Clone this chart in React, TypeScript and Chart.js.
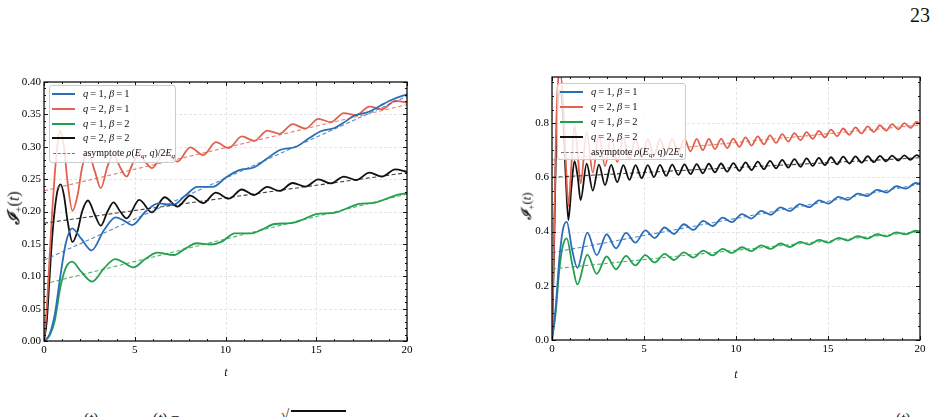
import React, { useEffect, useRef } from "react";
import { Chart, registerables } from "chart.js";

Chart.register(...registerables);

const FONT = "'Liberation Serif', 'DejaVu Serif', serif";

// ---------- tick values ----------
const X_MAJOR = [0, 5, 10, 15, 20];
const X_MINOR = [1, 2, 3, 4, 6, 7, 8, 9, 11, 12, 13, 14, 16, 17, 18, 19];
const YL_MAJOR = [0, 0.05, 0.1, 0.15, 0.2, 0.25, 0.3, 0.35, 0.4];
const YL_MINOR = [
  0.01, 0.02, 0.03, 0.04, 0.06, 0.07, 0.08, 0.09, 0.11, 0.12, 0.13, 0.14, 0.16, 0.17, 0.18, 0.19,
  0.21, 0.22, 0.23, 0.24, 0.26, 0.27, 0.28, 0.29, 0.31, 0.32, 0.33, 0.34, 0.36, 0.37, 0.38, 0.39,
];
const YR_MAJOR = [0, 0.2, 0.4, 0.6, 0.8];
const YR_MINOR = [0.05, 0.1, 0.15, 0.25, 0.3, 0.35, 0.45, 0.5, 0.55, 0.65, 0.7, 0.75, 0.85, 0.9, 0.95];

// ---------- left panel series [t, I+(t)] ----------
const L_Q1B1: [number, number][] = [
  [0, 0], [0.3, 0.01], [0.6, 0.042], [0.9, 0.1], [1.2, 0.151], [1.55, 0.174], [2.05, 0.158], [2.63, 0.14],
  [3.3, 0.171], [3.95, 0.191], [4.4, 0.186], [4.85, 0.179], [5.6, 0.2], [6.3, 0.2125], [7.1, 0.21], [7.8, 0.225],
  [8.45, 0.238], [9.3, 0.238], [10.0, 0.252], [10.75, 0.264], [11.55, 0.268], [12.3, 0.282], [13.0, 0.295],
  [13.9, 0.3], [14.6, 0.313], [15.25, 0.324], [16.0, 0.329], [16.5, 0.337], [17.1, 0.348], [17.9, 0.354],
  [18.5, 0.363], [19.2, 0.373], [20, 0.381],
];
const L_Q2B1: [number, number][] = [
  [0, 0], [0.15, 0.05], [0.3, 0.125], [0.45, 0.2], [0.6, 0.26], [0.75, 0.305], [0.9, 0.325], [1.1, 0.3],
  [1.3, 0.245], [1.57, 0.201], [1.85, 0.225], [2.1, 0.268], [2.42, 0.292], [2.8, 0.262], [3.13, 0.236],
  [3.5, 0.27], [3.83, 0.288], [4.2, 0.268], [4.55, 0.254], [4.9, 0.275], [5.25, 0.287], [5.6, 0.276],
  [5.95, 0.267], [6.65, 0.292], [7.35, 0.277], [8.06, 0.299], [8.77, 0.287], [9.47, 0.307], [10.18, 0.298],
  [10.9, 0.316], [11.58, 0.309], [12.3, 0.325], [12.98, 0.32], [13.7, 0.335], [14.4, 0.328], [15.12, 0.343],
  [15.8, 0.338], [16.52, 0.352], [17.2, 0.349], [17.93, 0.362], [18.62, 0.358], [19.35, 0.371], [20, 0.368],
];
const L_Q1B2: [number, number][] = [
  [0, 0], [0.3, 0.008], [0.6, 0.032], [0.9, 0.083], [1.2, 0.113], [1.55, 0.1225], [2.05, 0.107], [2.65, 0.0916],
  [3.3, 0.112], [3.92, 0.1266], [4.4, 0.121], [4.93, 0.1138], [5.6, 0.127], [6.25, 0.1364], [7.15, 0.1328],
  [7.8, 0.143], [8.4, 0.151], [9.2, 0.149], [9.8, 0.1534], [10.5, 0.1663], [11.4, 0.1662], [12.0, 0.172],
  [12.7, 0.1807], [13.6, 0.182], [14.3, 0.188], [15.0, 0.196], [16.0, 0.198], [16.7, 0.205], [17.35, 0.2116],
  [18.25, 0.2137], [18.9, 0.22], [19.5, 0.226], [20, 0.228],
];
const L_Q2B2: [number, number][] = [
  [0, 0], [0.15, 0.03], [0.3, 0.095], [0.45, 0.16], [0.6, 0.205], [0.75, 0.233], [0.92, 0.242], [1.1, 0.225],
  [1.3, 0.185], [1.57, 0.153], [1.85, 0.17], [2.1, 0.2], [2.42, 0.217], [2.8, 0.195], [3.13, 0.178], [3.5, 0.2],
  [3.83, 0.214], [4.2, 0.2], [4.55, 0.1895], [5.25, 0.218], [5.95, 0.1985], [6.65, 0.222], [7.35, 0.2075],
  [8.06, 0.2245], [8.77, 0.213], [9.47, 0.229], [10.18, 0.2198], [10.9, 0.234], [11.58, 0.2255], [12.3, 0.238],
  [12.98, 0.2317], [13.7, 0.244], [14.4, 0.2385], [15.12, 0.2497], [15.8, 0.2433], [16.52, 0.254], [17.2, 0.2486],
  [17.93, 0.26], [18.62, 0.2538], [19.35, 0.265], [20, 0.2615],
];
const L_ASY_Q1B1: [number, number][] = [[0, 0.125], [20, 0.378]];
const L_ASY_Q2B1: [number, number][] = [[0, 0.232], [20, 0.365]];
const L_ASY_Q1B2: [number, number][] = [[0, 0.088], [20, 0.227]];
const L_ASY_Q2B2: [number, number][] = [[0, 0.182], [20, 0.26]];

// ---------- right panel series ----------
const R_Q1B1: [number, number][] = [
  [0, 0], [0.2, 0.12], [0.4, 0.3], [0.6, 0.41], [0.8, 0.436], [1.1, 0.33], [1.38, 0.266], [1.92, 0.396],
  [2.43, 0.313], [2.97, 0.39], [3.48, 0.338], [4.02, 0.395], [4.53, 0.359], [5.07, 0.404], [5.58, 0.376],
  [6.12, 0.415], [6.63, 0.391], [7.17, 0.427], [7.68, 0.406], [8.22, 0.439], [8.73, 0.42], [9.27, 0.451],
  [9.78, 0.435], [10.32, 0.464], [10.83, 0.448], [11.37, 0.476], [11.88, 0.462], [12.42, 0.489], [12.93, 0.476],
  [13.47, 0.501], [13.98, 0.49], [14.52, 0.515], [15.03, 0.503], [15.57, 0.528], [16.08, 0.517], [16.62, 0.54],
  [17.13, 0.531], [17.67, 0.554], [18.18, 0.544], [18.72, 0.567], [19.23, 0.558], [19.77, 0.579], [20, 0.576],
];
const R_Q2B1: [number, number][] = [
  [0, 0], [0.1, 0.33], [0.2, 0.7], [0.3, 0.92], [0.45, 0.99], [0.6, 0.88], [0.75, 0.66], [0.89, 0.494],
  [1.05, 0.64], [1.222, 0.79], [1.4, 0.68], [1.554, 0.578], [1.886, 0.765], [2.218, 0.617], [2.55, 0.755],
  [2.882, 0.641], [3.214, 0.75], [3.546, 0.656], [3.878, 0.745], [4.21, 0.666], [4.542, 0.742], [4.874, 0.673],
  [5.206, 0.741], [5.538, 0.68], [5.87, 0.741], [6.202, 0.686], [6.534, 0.741], [6.866, 0.691], [7.198, 0.741],
  [7.53, 0.696], [7.862, 0.742], [8.194, 0.7], [8.526, 0.742], [8.858, 0.704], [9.19, 0.742], [9.522, 0.708],
  [9.854, 0.743], [10.186, 0.712], [10.518, 0.747], [10.85, 0.717], [11.182, 0.751], [11.514, 0.722],
  [11.846, 0.755], [12.178, 0.727], [12.51, 0.759], [12.842, 0.732], [13.174, 0.763], [13.506, 0.737],
  [13.838, 0.767], [14.17, 0.742], [14.502, 0.771], [14.834, 0.747], [15.166, 0.776], [15.498, 0.752],
  [15.83, 0.78], [16.162, 0.757], [16.494, 0.784], [16.826, 0.762], [17.158, 0.788], [17.49, 0.767],
  [17.822, 0.792], [18.154, 0.772], [18.486, 0.796], [18.818, 0.777], [19.15, 0.8], [19.482, 0.782],
  [19.814, 0.804], [20, 0.797],
];
const R_Q1B2: [number, number][] = [
  [0, 0], [0.2, 0.1], [0.4, 0.26], [0.6, 0.35], [0.8, 0.375], [1.1, 0.28], [1.38, 0.205], [1.92, 0.315],
  [2.43, 0.244], [2.97, 0.308], [3.48, 0.261], [4.02, 0.31], [4.53, 0.275], [5.07, 0.313], [5.58, 0.286],
  [6.12, 0.318], [6.63, 0.295], [7.17, 0.323], [7.68, 0.304], [8.22, 0.33], [8.73, 0.312], [9.27, 0.336],
  [9.78, 0.321], [10.32, 0.342], [10.83, 0.328], [11.37, 0.349], [11.88, 0.336], [12.42, 0.356], [12.93, 0.343],
  [13.47, 0.362], [13.98, 0.352], [14.52, 0.369], [15.03, 0.359], [15.57, 0.377], [16.08, 0.367], [16.62, 0.383],
  [17.13, 0.374], [17.67, 0.39], [18.18, 0.382], [18.72, 0.397], [19.23, 0.39], [19.77, 0.403], [20, 0.401],
];
const R_Q2B2: [number, number][] = [
  [0, 0], [0.1, 0.3], [0.2, 0.65], [0.3, 0.85], [0.45, 0.92], [0.6, 0.82], [0.75, 0.6], [0.89, 0.442],
  [1.05, 0.56], [1.222, 0.66], [1.4, 0.6], [1.554, 0.516], [1.886, 0.65], [2.218, 0.551], [2.55, 0.647],
  [2.882, 0.571], [3.214, 0.646], [3.546, 0.582], [3.878, 0.645], [4.21, 0.591], [4.542, 0.645], [4.874, 0.597],
  [5.206, 0.645], [5.538, 0.601], [5.87, 0.646], [6.202, 0.605], [6.534, 0.647], [6.866, 0.609], [7.198, 0.648],
  [7.53, 0.612], [7.862, 0.649], [8.194, 0.615], [8.526, 0.65], [8.858, 0.618], [9.19, 0.651], [9.522, 0.621],
  [9.854, 0.652], [10.186, 0.624], [10.518, 0.655], [10.85, 0.627], [11.182, 0.658], [11.514, 0.63],
  [11.846, 0.661], [12.178, 0.633], [12.51, 0.664], [12.842, 0.636], [13.174, 0.667], [13.506, 0.639],
  [13.838, 0.67], [14.17, 0.642], [14.502, 0.672], [14.834, 0.645], [15.166, 0.674], [15.498, 0.648],
  [15.83, 0.676], [16.162, 0.651], [16.494, 0.677], [16.826, 0.654], [17.158, 0.678], [17.49, 0.656],
  [17.822, 0.679], [18.154, 0.659], [18.486, 0.68], [18.818, 0.662], [19.15, 0.681], [19.482, 0.664],
  [19.814, 0.682], [20, 0.676],
];
const R_ASY_Q1B1: [number, number][] = [[0, 0.322], [20, 0.575]];
const R_ASY_Q2B1: [number, number][] = [[0, 0.664], [20, 0.793]];
const R_ASY_Q1B2: [number, number][] = [[0, 0.262], [20, 0.4]];
const R_ASY_Q2B2: [number, number][] = [[0, 0.6], [20, 0.672]];

// ---------- styles ----------
const C_BLUE = "#2a6db8";
const C_RED = "#e0624f";
const C_GREEN = "#23a04f";
const C_BLACK = "#111111";
const A_BLUE = "rgba(42,109,184,0.8)";
const A_RED = "rgba(224,98,79,0.8)";
const A_GREEN = "rgba(35,160,79,0.8)";
const A_BLACK = "rgba(17,17,17,0.8)";

function solid(pts: [number, number][], color: string) {
  return {
    data: pts.map(([x, y]) => ({ x, y })),
    borderColor: color,
    borderWidth: 1.8,
    pointRadius: 0,
    fill: false,
    cubicInterpolationMode: "monotone",
    order: 2,
  };
}
function dashed(pts: [number, number][], color: string) {
  return {
    data: pts.map(([x, y]) => ({ x, y })),
    borderColor: color,
    borderWidth: 1.1,
    borderDash: [4, 2.5],
    pointRadius: 0,
    fill: false,
    tension: 0,
    order: 1,
  };
}

const framePlugin = {
  id: "sciframe",
  beforeDatasetsDraw(chart: any, _a: any, opts: any) {
    const { ctx, chartArea: a, scales } = chart;
    const x = scales.x, y = scales.y;
    ctx.save();
    ctx.strokeStyle = "#dedede";
    ctx.lineWidth = 0.8;
    ctx.setLineDash([3, 2]);
    for (const v of opts.xMajor) {
      const p = Math.round(x.getPixelForValue(v)) + 0.5;
      ctx.beginPath(); ctx.moveTo(p, a.top); ctx.lineTo(p, a.bottom); ctx.stroke();
    }
    for (const v of opts.yMajor) {
      const p = Math.round(y.getPixelForValue(v)) + 0.5;
      ctx.beginPath(); ctx.moveTo(a.left, p); ctx.lineTo(a.right, p); ctx.stroke();
    }
    ctx.restore();
  },
  afterDatasetsDraw(chart: any, _a: any, opts: any) {
    const { ctx, chartArea: a, scales } = chart;
    const x = scales.x, y = scales.y;
    ctx.save();
    ctx.setLineDash([]);
    ctx.strokeStyle = "#000";
    ctx.lineWidth = 0.9;
    const tick = (x1: number, y1: number, x2: number, y2: number) => {
      ctx.beginPath(); ctx.moveTo(x1, y1); ctx.lineTo(x2, y2); ctx.stroke();
    };
    const xs = [...opts.xMajor.map((v: number) => [v, 4]), ...opts.xMinor.map((v: number) => [v, 2])];
    for (const [v, L] of xs) {
      const p = Math.round(x.getPixelForValue(v)) + 0.5;
      tick(p, a.bottom, p, a.bottom - L);
      tick(p, a.top, p, a.top + L);
    }
    const ys = [...opts.yMajor.map((v: number) => [v, 4]), ...opts.yMinor.map((v: number) => [v, 2])];
    for (const [v, L] of ys) {
      const p = Math.round(y.getPixelForValue(v)) + 0.5;
      tick(a.left, p, a.left + L, p);
      tick(a.right, p, a.right - L, p);
    }
    ctx.lineWidth = 1.2;
    ctx.strokeRect(a.left, a.top, a.right - a.left, a.bottom - a.top);
    ctx.restore();
  },
};

type PanelProps = {
  left: number; top: number; width: number; height: number;
  datasets: any[]; yMax: number; yStep: number; yDec: number;
  yMajor: number[]; yMinor: number[];
  padRight: number; padTop: number; yWidth: number; xHeight: number;
};

function Panel(p: PanelProps) {
  const ref = useRef<HTMLCanvasElement | null>(null);
  useEffect(() => {
    if (!ref.current) return;
    const tickFont = { family: FONT, size: 11 };
    const chart = new Chart(ref.current, {
      type: "line",
      data: { datasets: p.datasets },
      options: {
        animation: false,
        responsive: false,
        maintainAspectRatio: false,
        layout: { padding: { left: 0, right: p.padRight, top: p.padTop, bottom: 0 } },
        plugins: { legend: { display: false }, tooltip: { enabled: false }, sciframe: {
          xMajor: X_MAJOR, xMinor: X_MINOR, yMajor: p.yMajor, yMinor: p.yMinor,
        } } as any,
        scales: {
          x: {
            type: "linear", min: 0, max: 20, position: "bottom",
            grid: { display: false, drawTicks: false },
            border: { display: false },
            ticks: { stepSize: 5, autoSkip: false, maxRotation: 0, padding: 3, color: "#000", font: tickFont,
              includeBounds: false, callback: (v: any) => String(v) },
            afterFit: (s: any) => { s.height = p.xHeight; },
          },
          y: {
            type: "linear", min: 0, max: p.yMax,
            grid: { display: false, drawTicks: false },
            border: { display: false },
            ticks: { stepSize: p.yStep, autoSkip: false, padding: 3, color: "#000", font: tickFont,
              includeBounds: false, callback: (v: any) => Number(v).toFixed(p.yDec) },
            afterFit: (s: any) => { s.width = p.yWidth; },
          },
        },
      } as any,
      plugins: [framePlugin],
    });
    return () => chart.destroy();
  }, []);
  return (
    <canvas ref={ref} width={p.width} height={p.height}
      style={{ position: "absolute", left: p.left, top: p.top, width: p.width, height: p.height }} />
  );
}

function Legend({ left, top, width, height, rowGap }: { left: number; top: number; width: number; height: number; rowGap: number }) {
  const rows: [string, React.ReactNode][] = [
    [C_BLUE, <><i>q</i>{"\u2009=\u20091, "}<i>β</i>{"\u2009=\u20091"}</>],
    [C_RED, <><i>q</i>{"\u2009=\u20092, "}<i>β</i>{"\u2009=\u20091"}</>],
    [C_GREEN, <><i>q</i>{"\u2009=\u20091, "}<i>β</i>{"\u2009=\u20092"}</>],
    [C_BLACK, <><i>q</i>{"\u2009=\u20092, "}<i>β</i>{"\u2009=\u20092"}</>],
  ];
  const first = 8;
  return (
    <div style={{ position: "absolute", left, top, width, height, boxSizing: "border-box",
      background: "rgba(255,255,255,0.82)", border: "1px solid #cccccc", borderRadius: 3,
      fontFamily: FONT, fontSize: 10.5, color: "#111" }}>
      {rows.map(([c, label], i) => (
        <div key={i} style={{ position: "absolute", left: 0, top: first + i * rowGap - 7, height: 14, width: "100%" }}>
          <div style={{ position: "absolute", left: 2, top: 6, width: 23, height: 2, background: c }} />
          <div style={{ position: "absolute", left: 33, top: 0, lineHeight: "14px", whiteSpace: "nowrap" }}>{label}</div>
        </div>
      ))}
      <div style={{ position: "absolute", left: 0, top: first + 4 * rowGap - 7, height: 14, width: "100%" }}>
        <div style={{ position: "absolute", left: 3, top: 7, width: 22, height: 0, borderTop: "1px dashed #777" }} />
        <div style={{ position: "absolute", left: 33, top: 0, lineHeight: "14px", whiteSpace: "nowrap", fontSize: 10 }}>
          asymptote <i>ρ</i>(<i>E</i><sub style={{ fontSize: 7, verticalAlign: -2 }}><i>q</i></sub>, <i>q</i>)/2<i>E</i>
          <sub style={{ fontSize: 7, verticalAlign: -2 }}><i>q</i></sub>
        </div>
      </div>
    </div>
  );
}

function YTitle({ cx, cy, size }: { cx: number; cy: number; size: number }) {
  return (
    <div style={{ position: "absolute", left: cx, top: cy, transform: "translate(-50%,-50%) rotate(-90deg)",
      whiteSpace: "nowrap", fontFamily: FONT, fontSize: size, color: "#111" }}>
      <span style={{ fontFamily: "'DejaVu Serif', serif", fontStyle: "italic", fontWeight: "bold" }}>ℐ</span>
      <sub style={{ fontSize: size * 0.7, verticalAlign: -size * 0.2 }}>+</sub>(<i>t</i>)
    </div>
  );
}

function XTitle({ cx, cy }: { cx: number; cy: number }) {
  return (
    <div style={{ position: "absolute", left: cx, top: cy, transform: "translate(-50%,-50%)",
      fontFamily: FONT, fontSize: 12, fontStyle: "italic", color: "#111" }}>t</div>
  );
}

function CaptionBits() {
  const s: React.CSSProperties = { position: "absolute", top: 410, fontFamily: FONT, fontSize: 15, color: "#111", whiteSpace: "nowrap", lineHeight: "17px" };
  return (
    <>
      <div style={{ ...s, left: 84 }}>(<i>t</i>)</div>
      <div style={{ ...s, left: 153 }}>(<i>t</i>) =</div>
      <div style={{ ...s, left: 281, top: 407 }}>√</div>
      <div style={{ position: "absolute", left: 291, top: 410, width: 55, height: 1.5, background: "#111" }} />
      <div style={{ ...s, left: 896 }}>(<i>t</i>)</div>
    </>
  );
}

export default function App() {
  const leftSets = [
    dashed(L_ASY_Q1B1, A_BLUE), dashed(L_ASY_Q2B1, A_RED), dashed(L_ASY_Q1B2, A_GREEN), dashed(L_ASY_Q2B2, A_BLACK),
    solid(L_Q1B1, C_BLUE), solid(L_Q2B1, C_RED), solid(L_Q1B2, C_GREEN), solid(L_Q2B2, C_BLACK),
  ];
  const rightSets = [
    dashed(R_ASY_Q1B1, A_BLUE), dashed(R_ASY_Q2B1, A_RED), dashed(R_ASY_Q1B2, A_GREEN), dashed(R_ASY_Q2B2, A_BLACK),
    solid(R_Q1B1, C_BLUE), solid(R_Q2B1, C_RED), solid(R_Q1B2, C_GREEN), solid(R_Q2B2, C_BLACK),
  ];
  return (
    <div style={{ position: "fixed", left: 0, top: 0, width: 938, height: 417, background: "#fff", overflow: "hidden" }}>
      <div style={{ position: "absolute", left: 910, top: 4, fontFamily: FONT, fontSize: 20, color: "#111" }}>23</div>
      <Panel left={0} top={60} width={420} height={320} datasets={leftSets} yMax={0.4} yStep={0.05} yDec={2}
        yMajor={YL_MAJOR} yMinor={YL_MINOR} padRight={13} padTop={22} yWidth={44} xHeight={39} />
      <Panel left={510} top={55} width={425} height={320} datasets={rightSets} yMax={0.97} yStep={0.2} yDec={1}
        yMajor={YR_MAJOR} yMinor={YR_MINOR} padRight={15} padTop={22} yWidth={42} xHeight={35} />
      <Legend left={49} top={85} width={127} height={78} rowGap={14.8} />
      <Legend left={557} top={83} width={129} height={77} rowGap={15} />
      <YTitle cx={13} cy={208} size={16} />
      <YTitle cx={526} cy={206} size={13} />
      <XTitle cx={226} cy={372} />
      <XTitle cx={736} cy={374} />
      <CaptionBits />
    </div>
  );
}
